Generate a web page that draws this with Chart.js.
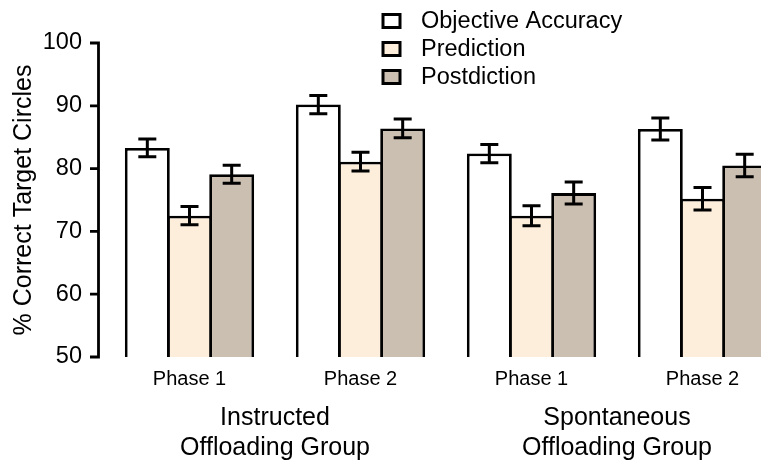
<!DOCTYPE html>
<html>
<head>
<meta charset="utf-8">
<script src="https://cdn.jsdelivr.net/npm/chart.js@4"></script>
<style>
  html, body { margin: 0; padding: 0; background: #fff; overflow: hidden; }
  #wrap { width: 800px; height: 465px; }
</style>
</head>
<body>
<div id="wrap"><canvas id="chart" width="800" height="465"></canvas></div>
<script>
const phases = ["Phase 1", "Phase 2", "Phase 1", "Phase 2"];
const groups = [["Instructed", "Offloading Group"], ["Spontaneous", "Offloading Group"]];
const seriesNames = ["Objective Accuracy", "Prediction", "Postdiction"];

const accuracy = [83.3, 90.2, 82.4, 86.3];
const prediction = [72.5, 81.1, 72.5, 75.2];
const postdiction = [79.1, 86.4, 76.1, 80.5];

const accuracyErr = [1.4, 1.45, 1.45, 1.75];
const predictionErr = [1.45, 1.5, 1.6, 1.8];
const postdictionErr = [1.45, 1.5, 1.75, 1.8];

const yTicks = [50, 60, 70, 80, 90, 100];

const FONT = "'Liberation Sans', Arial, sans-serif";
const colors = ["#ffffff", "#fdeedc", "#cbbfb1"];
const errors = [accuracyErr, predictionErr, postdictionErr];

// y axis line + ticks, offset a little from the bars
const axisPlugin = {
  id: "axisLine",
  afterDraw(chart) {
    const ctx = chart.ctx;
    const y = chart.scales.y;
    const xLine = 98.5;
    ctx.save();
    ctx.strokeStyle = "#000";
    ctx.lineWidth = 2.8;
    ctx.beginPath();
    ctx.moveTo(xLine, y.getPixelForValue(yTicks[yTicks.length - 1]) - 1.4);
    ctx.lineTo(xLine, y.getPixelForValue(yTicks[0]) + 1.4);
    yTicks.forEach(t => {
      const py = y.getPixelForValue(t);
      ctx.moveTo(90, py);
      ctx.lineTo(xLine, py);
    });
    ctx.stroke();
    ctx.restore();
  }
};

const errorBarPlugin = {
  id: "errorBars",
  afterDatasetsDraw(chart) {
    const ctx = chart.ctx;
    const y = chart.scales.y;
    ctx.save();
    ctx.strokeStyle = "#000";
    ctx.lineWidth = 3;
    chart.data.datasets.forEach((ds, i) => {
      const meta = chart.getDatasetMeta(i);
      meta.data.forEach((bar, j) => {
        const v = ds.data[j], e = errors[i][j];
        const top = y.getPixelForValue(v + e);
        const bot = y.getPixelForValue(v - e);
        const half = 9;
        ctx.beginPath();
        ctx.moveTo(bar.x, top);
        ctx.lineTo(bar.x, bot);
        ctx.moveTo(bar.x - half, top);
        ctx.lineTo(bar.x + half, top);
        ctx.moveTo(bar.x - half, bot);
        ctx.lineTo(bar.x + half, bot);
        ctx.stroke();
      });
    });
    ctx.restore();
  }
};

const labelsPlugin = {
  id: "groupLabels",
  afterDraw(chart) {
    const ctx = chart.ctx;
    const x = chart.scales.x;
    const bottom = chart.chartArea.bottom;
    ctx.save();
    ctx.fillStyle = "#000";
    ctx.textAlign = "center";
    ctx.textBaseline = "middle";
    ctx.font = "25px " + FONT;
    groups.forEach((g, k) => {
      const cx = (x.getPixelForValue(2 * k) + x.getPixelForValue(2 * k + 1)) / 2;
      g.forEach((line, n) => ctx.fillText(line, cx, bottom + 61 + n * 30));
    });

    // legend
    ctx.textAlign = "left";
    ctx.font = "23.5px " + FONT;
    chart.data.datasets.forEach((ds, i) => {
      const ry = 21 + i * 28;
      ctx.fillStyle = ds.backgroundColor;
      ctx.fillRect(383, ry - 6.5, 17, 13);
      ctx.strokeStyle = "#000";
      ctx.lineWidth = 3;
      ctx.strokeRect(383, ry - 6.5, 17, 13);
      ctx.fillStyle = "#000";
      ctx.fillText(ds.label, 421, ry + 1);
    });
    ctx.restore();
  }
};

new Chart(document.getElementById("chart"), {
  type: "bar",
  data: {
    labels: phases,
    datasets: [
      { label: seriesNames[0], data: accuracy, backgroundColor: colors[0] },
      { label: seriesNames[1], data: prediction, backgroundColor: colors[1] },
      { label: seriesNames[2], data: postdiction, backgroundColor: colors[2] }
    ]
  },
  options: {
    responsive: false,
    animation: false,
    devicePixelRatio: 1,
    layout: { padding: { top: 43, right: 12, left: 0, bottom: 0 } },
    datasets: {
      bar: {
        borderColor: "#000",
        borderWidth: 2.8,
        borderSkipped: false,
        categoryPercentage: 0.74,
        barPercentage: 1.065
      }
    },
    scales: {
      x: {
        type: "category",
        offset: true,
        grid: { display: false, drawTicks: false },
        border: { display: false },
        ticks: { color: "#000", font: { family: FONT, size: 20 }, padding: 10 },
        afterFit(s) { s.height = 108; }
      },
      y: {
        min: 50,
        max: 100,
        grid: { display: false, drawTicks: false },
        border: { display: false },
        ticks: { stepSize: 10, color: "#000", font: { family: FONT, size: 23.5 }, padding: 22 },
        title: {
          display: true,
          text: "% Correct Target Circles",
          color: "#000",
          font: { family: FONT, size: 25 },
          padding: { top: 9, bottom: 0 }
        },
        afterFit(s) { s.width = 104; }
      }
    },
    plugins: {
      legend: { display: false },
      tooltip: { enabled: false }
    }
  },
  plugins: [axisPlugin, errorBarPlugin, labelsPlugin]
});
</script>
</body>
</html>
